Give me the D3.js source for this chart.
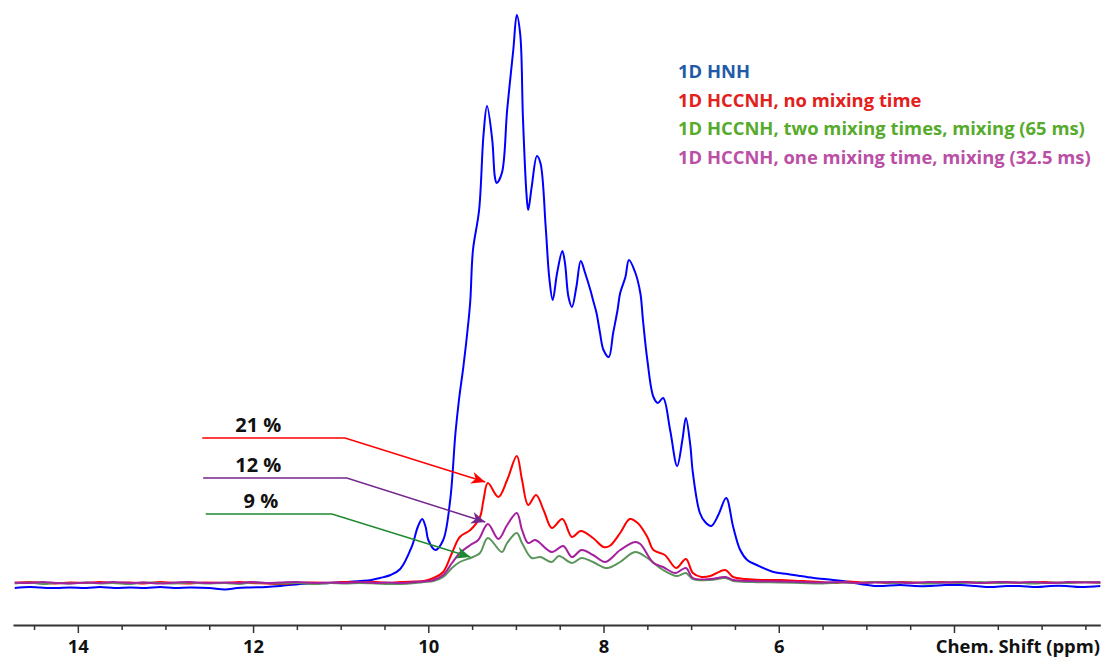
<!DOCTYPE html>
<html>
<head>
<meta charset="utf-8">
<script src="https://cdn.jsdelivr.net/npm/d3@7"></script>
<style>
  body { margin: 0; background: #fff; }
  svg { display: block; }
  text { font-family: "Open Sans", sans-serif; font-weight: 700; }
</style>
</head>
<body>
<svg id="chart" width="1104" height="659"></svg>
<script>
// spectra: [chemical shift (ppm), intensity (a.u.)]
const hnh = [
  [14.72,-5],[14.55,-4],[14.43,-4.5],[14.25,-5],[14.09,-4.5],[13.9,-5],[13.75,-4],[13.58,-5],[13.40,-4.5],
  [13.22,-5],[13.06,-4],[12.9,-5],[12.72,-4.5],[12.5,-5],[12.32,-6.5],[12.18,-5],[12.03,-4.5],[11.85,-4],
  [11.69,-3],[11.46,-1],[11.3,-0.5],[11.12,0],[10.95,1],[10.78,2],[10.65,3],[10.55,5],[10.43,8],[10.32,14],
  [10.19,36],[10.12,56],[10.07,64],[10.03,56],[10.00,43],[9.92,33],[9.83,43],[9.75,83],[9.69,150],[9.65,183],
  [9.62,203],[9.60,216],[9.54,263],[9.52,283],[9.49,333],[9.42,373],[9.37,448],[9.33,477],[9.27,443],[9.24,406],
  [9.22,400],[9.16,410],[9.10,473],[9.03,533],[8.99,568],[8.95,548],[8.92,466],[8.88,390],[8.86,373],[8.82,396],
  [8.76,427],[8.72,420],[8.66,356],[8.62,306],[8.58,283],[8.53,310],[8.47,332],[8.44,320],[8.40,286],[8.36,276],
  [8.31,296],[8.26,322],[8.21,310],[8.15,293],[8.12,283],[8.08,270],[8.04,250],[8.00,233],[7.94,226],[7.89,250],
  [7.84,273],[7.81,290],[7.75,306],[7.71,323],[7.64,311],[7.58,290],[7.55,263],[7.50,223],[7.43,186],[7.38,180],
  [7.32,185],[7.24,153],[7.16,117],[7.10,143],[7.06,165],[7.01,138],[6.98,110],[6.90,70],[6.84,61],[6.77,57],
  [6.69,68],[6.60,85],[6.52,56],[6.44,33],[6.36,23],[6.25,18],[6.06,11],[5.9,9],[5.76,7],[5.6,5],[5.38,3],
  [5.2,1],[5.07,-1],[4.88,-3],[4.61,-2],[4.45,-3],[4.27,-3],[4.1,-2],[3.93,-2],[3.75,-3],[3.59,-4],[3.4,-3],
  [3.25,-3],[3.05,-4],[2.90,-3],[2.72,-3],[2.56,-4],[2.33,-3]
];
const noMix = [
  [14.72,0],[14.55,1],[14.4,0],[14.25,-0.5],[14.09,0.5],[13.9,0],[13.75,1],[13.6,0],[13.4,0.5],[13.25,-0.5],
  [13.06,1],[12.9,0],[12.72,-0.5],[12.55,0.5],[12.32,0],[12.15,1],[12.03,0],[11.85,-0.5],[11.69,-1],[11.5,0],
  [11.3,0.5],[11.12,0],[10.95,1],[10.78,0.5],[10.6,1],[10.45,0],[10.32,1],[10.15,1.5],[10.05,2],[9.94,5],
  [9.83,11],[9.73,30],[9.64,46],[9.52,53],[9.41,66],[9.37,83],[9.32,100],[9.20,86],[9.10,103],[8.99,127],
  [8.93,103],[8.86,78],[8.77,88],[8.68,72],[8.59,55],[8.47,64],[8.36,46],[8.26,52],[8.12,45],[8.00,36],
  [7.93,37],[7.81,50],[7.70,64],[7.61,60],[7.50,46],[7.43,33],[7.30,28],[7.17,15],[7.06,24],[6.98,10],
  [6.88,6],[6.78,7],[6.61,13],[6.52,6],[6.38,4],[6.2,3],[5.99,3],[5.75,2],[5.53,1],[5.35,0],[5.2,1.5],
  [5.05,0.5],[4.9,1],[4.75,0],[4.6,1],[4.45,0.5],[4.3,0],[4.15,1],[4.0,0.5],[3.85,1],[3.7,0],[3.55,0.5],
  [3.4,1],[3.25,0],[3.1,0.5],[2.95,1],[2.8,0],[2.65,0.5],[2.5,1],[2.33,0]
];
const twoMix = [
  [14.72,-0.5],[14.55,0.5],[14.4,-1],[14.25,0],[14.09,-0.5],[13.9,0.5],[13.75,-0.5],[13.6,0],[13.4,-1],[13.25,0.5],
  [13.06,0],[12.9,-0.5],[12.72,0.5],[12.55,-0.5],[12.32,0],[12.15,-1],[12.03,0.5],[11.85,0],[11.69,-0.5],[11.5,0],
  [11.3,-1],[11.12,0],[10.95,-0.5],[10.78,0],[10.6,-0.5],[10.45,-1],[10.32,-1],[10.15,0],[10.05,1],[9.94,2],
  [9.83,6],[9.73,15],[9.64,21],[9.49,26],[9.41,30],[9.32,45],[9.16,31],[9.10,40],[8.99,50],[8.93,40],
  [8.82,25],[8.72,26],[8.59,21],[8.51,27],[8.36,20],[8.25,25],[8.12,21],[7.96,15],[7.81,21],[7.64,31],
  [7.50,25],[7.32,13],[7.16,7],[7.06,10],[6.98,4],[6.78,3],[6.61,5],[6.52,2],[6.3,1],[6.0,0.5],[5.75,0],
  [5.5,-0.5],[5.3,0.5],[5.1,0],[4.9,1],[4.7,0],[4.5,0.5],[4.3,-0.5],[4.1,0.5],[3.9,0],[3.7,1],[3.5,0],
  [3.3,0.5],[3.1,-0.5],[2.9,0.5],[2.7,0],[2.5,1],[2.33,0]
];
const oneMix = [
  [14.72,0.5],[14.55,0],[14.4,1],[14.25,0],[14.09,-0.5],[13.9,0.5],[13.75,0],[13.6,1],[13.4,0],[13.25,0.5],
  [13.06,-0.5],[12.9,0.5],[12.72,1],[12.55,0],[12.32,0.5],[12.15,0],[12.03,1],[11.85,0],[11.69,0.5],[11.5,1],
  [11.3,0],[11.12,0.5],[10.95,0],[10.78,1],[10.6,0],[10.45,0.5],[10.32,0],[10.15,1],[10.05,1.5],[9.94,3],
  [9.83,8],[9.73,20],[9.64,30],[9.52,38],[9.43,43],[9.32,59],[9.20,44],[9.10,58],[8.99,70],[8.93,53],
  [8.86,40],[8.78,43],[8.59,31],[8.46,37],[8.36,26],[8.25,33],[8.12,28],[7.98,21],[7.81,33],[7.64,41],
  [7.58,39],[7.43,20],[7.32,16],[7.18,10],[7.06,15],[6.98,5],[6.78,4],[6.61,6],[6.52,3],[6.3,2],[6.0,1.5],
  [5.75,1],[5.5,0.5],[5.3,1],[5.1,0],[4.9,0.5],[4.7,1],[4.5,0],[4.3,1],[4.1,0.5],[3.9,1],[3.7,0],[3.5,1],
  [3.3,0.5],[3.1,1],[2.9,0],[2.7,1],[2.5,0.5],[2.33,1]
];

const legendLabels = [
  "1D HNH",
  "1D HCCNH, no mixing time",
  "1D HCCNH, two mixing times, mixing (65 ms)",
  "1D HCCNH, one mixing time, mixing (32.5 ms)"
];
const legendColors = ["#1f5ba8", "#e3201b", "#57ab2c", "#bb4fa6"];

const majorTicks = [14, 12, 10, 8, 6, 4];
const minorTicks = d3.range(14.5, 2.4, -0.5).filter(v => v % 2 !== 0);
const tickLabels = ["14", "12", "10", "8", "6", ""];

// percentage annotations: label, colour, where the leader starts, bends, and points to
const pctLabels = ["21 %", "12 %", "9 %"];
const pctColors = ["#ff0000", "#74278f", "#1e8a30"];
const pctLabelAt = [11.94, 11.94, 11.91];
const pctStart = [12.58, 12.57, 12.54];
const pctBend = [10.95, 10.93, 11.10];
const pctLevel = [145, 105, 69];
const pctTip = [[9.35, 101], [9.35, 61], [9.52, 26]];

const svg = d3.select("#chart");
const x = d3.scaleLinear().domain([14.74, 2.33]).range([13, 1100.3]);
const y = d3.scaleLinear().domain([0, 568]).range([583, 15]);

const line = d3.line()
  .x(d => x(d[0]))
  .y(d => y(d[1]))
  .curve(d3.curveCatmullRom.alpha(0.5));

const series = [
  { data: hnh, color: "#0000ff" },
  { data: noMix, color: "#ff0000" },
  { data: twoMix, color: "#5b955b" },
  { data: oneMix, color: "#a4209e" }
];

svg.selectAll("path.spec")
  .data(series)
  .enter().append("path")
  .attr("class", "spec")
  .attr("d", d => line(d.data))
  .attr("fill", "none")
  .attr("stroke", d => d.color)
  .attr("stroke-width", 2)
  .attr("stroke-linejoin", "round");

// axis
const axisY = 625;
const gMinor = svg.append("g")
  .attr("transform", `translate(0,${axisY})`)
  .call(d3.axisBottom(x).tickValues(minorTicks).tickSize(5).tickSizeOuter(0).tickFormat(""));
gMinor.select(".domain").remove();

const gMajor = svg.append("g")
  .attr("transform", `translate(0,${axisY})`)
  .call(d3.axisBottom(x).tickValues(majorTicks).tickSize(8).tickSizeOuter(0)
    .tickFormat((d, i) => tickLabels[i]));
gMajor.select(".domain").attr("stroke", "#333").attr("stroke-width", 2);
svg.selectAll(".tick line").attr("stroke", "#333").attr("stroke-width", 1.5);
gMajor.selectAll(".tick text")
  .attr("y", 28).attr("dy", 0)
  .style("font-family", "'Open Sans', sans-serif")
  .style("font-weight", 700)
  .style("font-size", "18.4px")
  .attr("fill", "#111");

svg.append("text")
  .attr("x", 1100).attr("y", 653)
  .attr("text-anchor", "end")
  .style("font-size", "18.4px")
  .attr("fill", "#111")
  .text("Chem. Shift (ppm)");

// legend
svg.selectAll("text.leg")
  .data(legendLabels)
  .enter().append("text")
  .attr("class", "leg")
  .attr("x", 678)
  .attr("y", (d, i) => 78 + i * 28.7)
  .attr("fill", (d, i) => legendColors[i])
  .style("font-size", "18.4px")
  .text(d => d);

// arrows
const defs = svg.append("defs");
pctColors.forEach((c, i) => {
  defs.append("marker")
    .attr("id", "arr" + i)
    .attr("viewBox", "-15 -7 16 14")
    .attr("refX", 0).attr("refY", 0)
    .attr("markerWidth", 16).attr("markerHeight", 14)
    .attr("markerUnits", "userSpaceOnUse")
    .attr("orient", "auto")
    .append("path")
    .attr("d", "M0,0 L-14,-6 L-10,0 L-14,6 Z")
    .attr("fill", c);
});

pctLabels.forEach((lab, i) => {
  const pts = [[pctStart[i], pctLevel[i]], [pctBend[i], pctLevel[i]], pctTip[i]];
  svg.append("path")
    .attr("d", d3.line().x(d => x(d[0])).y(d => y(d[1]))(pts))
    .attr("fill", "none")
    .attr("stroke", pctColors[i])
    .attr("stroke-width", 1.5)
    .attr("marker-end", `url(#arr${i})`);
  svg.append("text")
    .attr("x", x(pctLabelAt[i]))
    .attr("y", y(pctLevel[i]) - 6)
    .attr("text-anchor", "middle")
    .style("font-size", "20px")
    .attr("fill", "#111")
    .text(lab);
});
</script>
</body>
</html>
